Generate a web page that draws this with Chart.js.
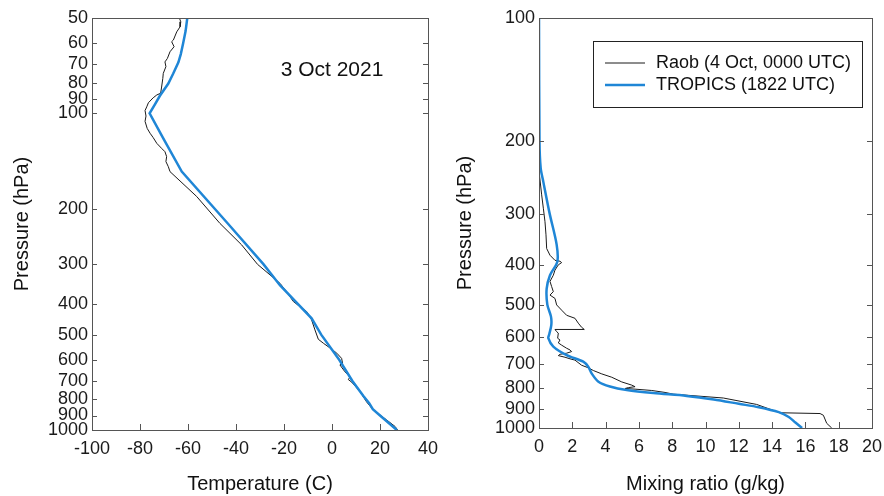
<!DOCTYPE html>
<html>
<head>
<meta charset="utf-8">
<script src="https://cdn.jsdelivr.net/npm/chart.js@4.4.0/dist/chart.umd.min.js"></script>
<style>
  html, body { margin: 0; padding: 0; background: #fff; }
  #wrap { position: relative; width: 884px; height: 496px; }
  .panel { position: absolute; top: 0; width: 442px; height: 496px; }
  #leftPanel { left: 0; }
  #rightPanel { left: 442px; }
</style>
</head>
<body>
<div id="wrap">
  <div class="panel" id="leftPanel"><canvas id="tempChart"></canvas></div>
  <div class="panel" id="rightPanel"><canvas id="mixChart"></canvas></div>
</div>
<script>
// ---- data ----
const dateText = "3 Oct 2021";
const raobLabel = "Raob (4 Oct, 0000 UTC)";
const tropicsLabel = "TROPICS (1822 UTC)";

const tempTicks = [-100, -80, -60, -40, -20, 0, 20, 40];
const tempPressureTicks = [50, 60, 70, 80, 90, 100, 200, 300, 400, 500, 600, 700, 800, 900, 1000];
const mixTicks = [0, 2, 4, 6, 8, 10, 12, 14, 16, 18, 20];
const mixPressureTicks = [100, 200, 300, 400, 500, 600, 700, 800, 900, 1000];

// temperature (C) vs pressure (hPa)
const raobTempP = [50, 51.4, 53.3, 55.3, 58.7, 59.4, 61.6, 63.9, 67.1, 68.8, 71.2, 74.8, 77.6, 82.6, 86.4, 87.5, 89.3, 92.6, 95.4, 98,
  102, 106, 111.6, 115.6, 119.3, 124.4, 129, 132.2, 137, 142, 147.4, 152.8, 183, 222.6, 260, 300, 344, 366, 393, 408,
  423, 449, 483, 517, 532, 551, 572, 594, 615, 623, 655, 680, 693, 706, 757, 815, 865, 896, 930, 975, 1000];
const raobTemp = [-63.6, -63.0, -63.3, -64.7, -66.1, -66.8, -65.8, -67.5, -68.6, -69.6, -69.2, -70.3, -70.5, -71.0, -71.4, -73.0, -74.5, -76.5, -77.2, -77.9,
  -77.5, -77.9, -77.0, -75.8, -74.5, -73.0, -71.0, -69.6, -68.9, -69.2, -68.2, -67.5, -56.4, -46.7, -37.7, -31.0, -21.7, -18.9, -16.1, -13.3,
  -10.5, -8.5, -7.1, -5.7, -3.6, -0.8, 2.0, 4.0, 4.4, 3.3, 5.4, 7.5, 6.8, 8.2, 11.7, 14.4, 17.2, 20.0, 22.8, 26.3, 27.3];

const tropicsTempP = [50, 55, 60, 65, 69, 75, 80.5, 88, 94, 100, 120, 152.8, 222, 300, 349, 444, 500, 600, 700, 780, 823, 860, 900, 1000];
const tropicsTemp = [-60.3, -61.0, -62.0, -63.0, -64.0, -66.2, -68.2, -71.7, -73.9, -76.0, -70.3, -62.6, -43.6, -28.5, -21.7, -8.5, -4.5, 3, 8.5, 13, 15.5, 17, 20, 27];

// mixing ratio (g/kg) vs pressure (hPa)
const raobMixP = [100, 150, 200, 242, 270, 291, 314, 338, 365, 379, 390, 392, 395, 400, 412, 424, 439, 452, 465, 474,
  483, 501, 516, 531, 540, 555, 568, 575, 575, 582, 587, 604, 610, 620, 628, 639, 645, 651, 657, 661,
  666, 672, 678, 683, 703, 713, 724, 738, 752, 772, 786, 793, 797, 801, 804, 810, 819, 827, 845, 876,
  918, 922, 931, 974, 1000];
const raobMix = [0, 0.01, 0.02, 0.06, 0.16, 0.26, 0.36, 0.42, 0.46, 0.66, 0.96, 1.26, 1.36, 1.16, 0.96, 0.86, 0.66, 0.76, 0.86, 0.66,
  0.96, 1.06, 1.36, 1.66, 2.16, 2.36, 2.56, 2.72, 0.96, 1.06, 1.16, 1.12, 1.26, 1.16, 1.36, 1.66, 1.86, 1.96, 1.66, 1.26,
  1.16, 1.56, 1.86, 2.16, 2.56, 2.96, 3.26, 3.77, 4.37, 4.97, 5.57, 5.77, 5.37, 5.17, 5.77, 6.77, 7.57, 8.07, 11.07, 13.07,
  14.47, 16.88, 17.08, 17.28, 17.58];

const tropicsMixP = [100, 200, 232, 251, 300, 357, 393, 424, 457, 500, 535, 560, 590, 604, 633, 664, 689, 709, 737, 771,
  792, 808, 822, 835, 852, 873, 890, 915, 940, 970, 1000];
const tropicsMix = [0, 0.03, 0.1, 0.26, 0.64, 1.06, 1.1, 0.66, 0.46, 0.5, 0.72, 0.74, 0.62, 0.56, 0.86, 1.66, 2.66, 2.96, 3.17, 3.57,
  4.26, 5.27, 6.87, 8.87, 10.5, 12.0, 13.2, 14.4, 15.0, 15.4, 15.8];

// ---- styling ----
const FONT = "'Liberation Sans', Arial, sans-serif";
const RAOB_COLOR = "#1a1a1a";
const TROPICS_COLOR = "#1f86d6";
const FRAME_COLOR = "#555";

Chart.defaults.font.family = FONT;
Chart.defaults.color = "#1a1a1a";

function toXY(xs, ps) {
    return ps.map((p, i) => ({ x: xs[i], y: p }));
}

function fixWidth(w) {
    return scale => {
        scale.width = w;
        scale.paddingTop = 0;
        scale.paddingBottom = 0;
    };
}

function fixHeight(h) {
    return scale => {
        scale.height = h;
        scale.paddingLeft = 0;
        scale.paddingRight = 0;
    };
}

function setTicks(values) {
    return scale => {
        scale.ticks = values.map(v => ({ value: v }));
    };
}

// box round the plot area plus inward tick marks
const frameTicks = {
    id: "frameTicks",
    afterDraw(chart) {
        const { ctx, chartArea: a, scales } = chart;
        ctx.save();
        ctx.strokeStyle = FRAME_COLOR;
        ctx.lineWidth = 1;
        ctx.strokeRect(Math.round(a.left) + 0.5, Math.round(a.top) + 0.5,
            Math.round(a.right - a.left), Math.round(a.bottom - a.top));
        ctx.beginPath();
        scales.y.ticks.forEach(t => {
            const py = Math.round(scales.y.getPixelForValue(t.value)) + 0.5;
            ctx.moveTo(a.left, py);
            ctx.lineTo(a.left + 5, py);
            ctx.moveTo(a.right, py);
            ctx.lineTo(a.right - 5, py);
        });
        scales.x.ticks.forEach(t => {
            const px = Math.round(scales.x.getPixelForValue(t.value)) + 0.5;
            ctx.moveTo(px, a.bottom);
            ctx.lineTo(px, a.bottom - 6);
        });
        ctx.stroke();
        ctx.restore();
    }
};

const dateNote = {
    id: "dateNote",
    afterDraw(chart) {
        const { ctx, chartArea: a } = chart;
        ctx.save();
        ctx.font = "21px " + FONT;
        ctx.fillStyle = "#111";
        ctx.textAlign = "center";
        ctx.textBaseline = "middle";
        ctx.fillText(dateText, a.left + 240, a.top + 52);
        ctx.restore();
    }
};

const boxLegend = {
    id: "boxLegend",
    afterDraw(chart) {
        const { ctx, chartArea: a } = chart;
        const left = a.left + 54, top = a.top + 23, w = 269, h = 66;
        ctx.save();
        ctx.fillStyle = "#fff";
        ctx.fillRect(left, top, w, h);
        ctx.strokeStyle = "#222";
        ctx.lineWidth = 1;
        ctx.strokeRect(left + 0.5, top + 0.5, w, h);
        ctx.font = "18px " + FONT;
        ctx.textBaseline = "middle";
        ctx.fillStyle = "#111";
        chart.data.datasets.forEach((ds, i) => {
            const y = top + 22 + i * 22;
            ctx.strokeStyle = ds.borderColor;
            ctx.lineWidth = ds.borderWidth;
            ctx.beginPath();
            ctx.moveTo(left + 12, y);
            ctx.lineTo(left + 52, y);
            ctx.stroke();
            ctx.fillText(ds.label, left + 63, y);
        });
        ctx.restore();
    }
};

function makeOptions(xMin, xMax, xTicks, xTitle, yMin, yMax, yTicks, yWidth, xHeight, rightPad, titleX) {
    return {
        responsive: true,
        maintainAspectRatio: false,
        animation: false,
        layout: { padding: { top: 18, right: rightPad, left: 0, bottom: 0 } },
        plugins: { legend: { display: false }, tooltip: { enabled: false } },
        elements: { point: { radius: 0 } },
        scales: {
            x: {
                type: "linear",
                min: xMin,
                max: xMax,
                grid: { display: false, drawTicks: false },
                border: { display: false },
                afterBuildTicks: setTicks(xTicks),
                afterFit: fixHeight(xHeight),
                ticks: { font: { size: 18 }, padding: 8, autoSkip: false, maxRotation: 0, color: "#1a1a1a" },
                title: { display: true, text: xTitle, font: { size: 20, lineHeight: 1.2 }, padding: { top: 0, bottom: 0 }, color: "#111" }
            },
            y: {
                type: "logarithmic",
                reverse: true,
                min: yMin,
                max: yMax,
                grid: { display: false, drawTicks: false },
                border: { display: false },
                afterBuildTicks: setTicks(yTicks),
                afterFit: fixWidth(yWidth),
                ticks: { font: { size: 18 }, padding: 4, autoSkip: false, color: "#1a1a1a", callback: v => String(v) },
                title: { display: true, text: "Pressure (hPa)", font: { size: 20, lineHeight: 1.2 }, padding: { top: titleX, bottom: 0 }, color: "#111" }
            }
        }
    };
}

new Chart(document.getElementById("tempChart"), {
    type: "scatter",
    data: {
        datasets: [
            {
                label: raobLabel,
                data: toXY(raobTemp, raobTempP),
                showLine: true,
                borderColor: RAOB_COLOR,
                borderWidth: 1,
                tension: 0,
                order: 2
            },
            {
                label: tropicsLabel,
                data: toXY(tropicsTemp, tropicsTempP),
                showLine: true,
                borderColor: TROPICS_COLOR,
                borderWidth: 2.5,
                tension: 0,
                order: 1
            }
        ]
    },
    options: makeOptions(-100, 40, tempTicks, "Temperature (C)", 50, 1000, tempPressureTicks, 92, 66, 14, 10),
    plugins: [frameTicks, dateNote]
});

new Chart(document.getElementById("mixChart"), {
    type: "scatter",
    data: {
        datasets: [
            {
                label: raobLabel,
                data: toXY(raobMix, raobMixP),
                showLine: true,
                borderColor: RAOB_COLOR,
                borderWidth: 1,
                tension: 0,
                order: 2
            },
            {
                label: tropicsLabel,
                data: toXY(tropicsMix, tropicsMixP),
                showLine: true,
                borderColor: TROPICS_COLOR,
                borderWidth: 2.5,
                tension: 0.3,
                order: 1
            }
        ]
    },
    options: makeOptions(0, 20, mixTicks, "Mixing ratio (g/kg)", 100, 1000, mixPressureTicks, 97, 68, 12, 11),
    plugins: [frameTicks, boxLegend]
});
</script>
</body>
</html>
